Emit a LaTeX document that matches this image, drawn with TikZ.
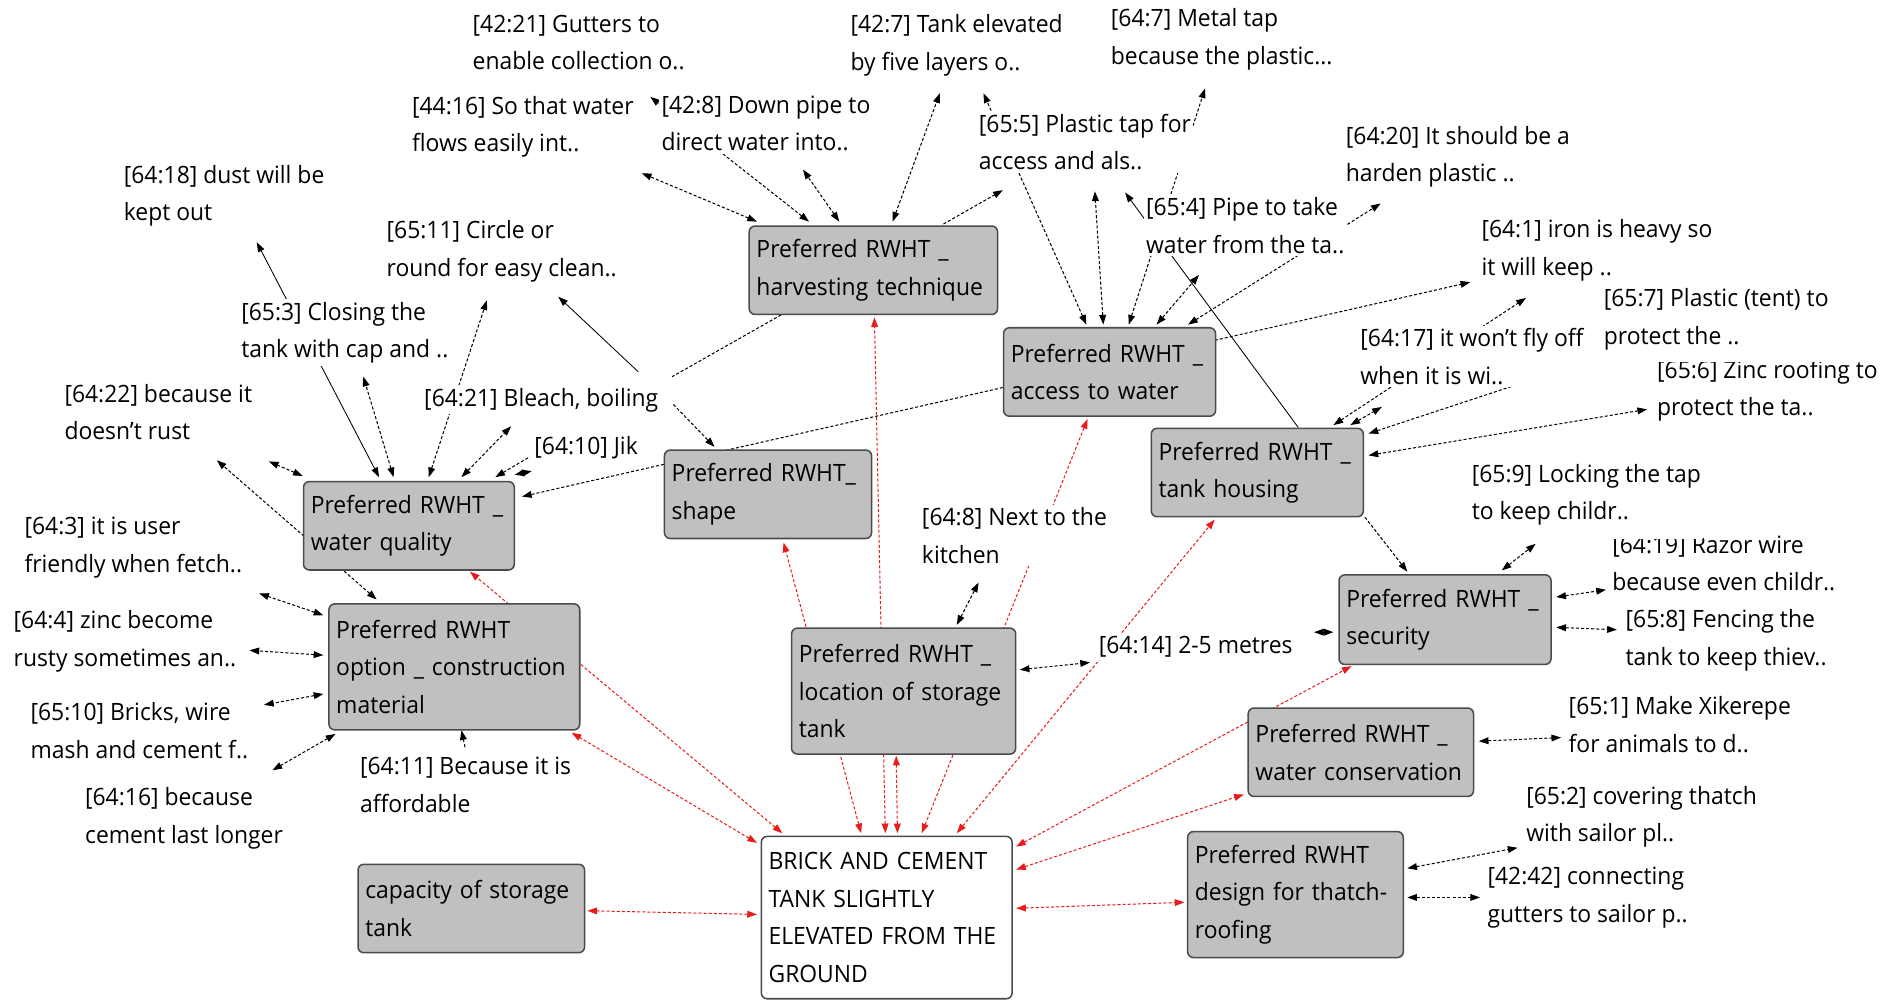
\documentclass[tikz,border=0pt]{standalone}
\usepackage{fontspec}
\setmainfont{Open Sans}[FakeStretch=0.96]
\usetikzlibrary{arrows.meta,calc}
\pgfdeclarelayer{bg}
\pgfsetlayers{bg,main}
\definecolor{boxfill}{RGB}{192,192,192}
\definecolor{boxline}{RGB}{75,75,75}
\definecolor{redl}{RGB}{232,28,28}
\begin{document}
\begin{tikzpicture}[x=0.025cm, y=-0.025cm,
  every node/.style={font=\fontsize{14}{22}\selectfont},
  txt/.style={anchor=north west, fill=white, inner sep=0.05cm, align=left, text=black},
  rbox/.style={anchor=north west, draw=boxline, fill=boxfill, line width=0.9pt, rounded corners=0.12cm, inner xsep=0.15cm, inner ysep=0pt, align=left, text=black},
  wbox/.style={rbox, fill=white},
  ln/.style={line width=0.6pt, dash pattern=on 1.8pt off 1.2pt},
  bl/.style={ln, black},
  rd/.style={ln, redl},
  sl/.style={line width=0.5pt, black},
  >={Triangle[length=2mm,width=1.4mm]}]
\useasboundingbox (0,0) rectangle (1568,826);

% ---- boxes ----
\node[rbox, minimum width=5.125cm, minimum height=1.825cm, text width=4.825cm] (H) at (618,186) {\mbox{Preferred RWHT \_}\\\mbox{harvesting technique}};
\node[rbox, minimum width=4.375cm, minimum height=1.825cm, text width=4.075cm] (A) at (828,270) {\mbox{Preferred RWHT \_}\\\mbox{access to water}};
\node[rbox, minimum width=4.375cm, minimum height=1.825cm, text width=4.075cm] (TH) at (950,353) {\mbox{Preferred RWHT \_}\\\mbox{tank housing}};
\node[rbox, minimum width=4.35cm, minimum height=1.825cm, text width=4.05cm] (WQ) at (250,397) {\mbox{Preferred RWHT \_}\\\mbox{water quality}};
\node[rbox, minimum width=4.275cm, minimum height=1.825cm, text width=3.975cm] (SH) at (548,371) {\mbox{Preferred RWHT\_}\\\mbox{shape}};
\node[rbox, minimum width=5.175cm, minimum height=2.6cm, text width=4.875cm] (CM) at (271,498) {\mbox{Preferred RWHT}\\\mbox{option \_ construction}\\\mbox{material}};
\node[rbox, minimum width=4.625cm, minimum height=2.6cm, text width=4.325cm] (L) at (653,518) {\mbox{Preferred RWHT \_}\\\mbox{location of storage}\\\mbox{tank}};
\node[rbox, minimum width=4.375cm, minimum height=1.85cm, text width=4.075cm] (S) at (1105,474) {\mbox{Preferred RWHT \_}\\\mbox{security}};
\node[rbox, minimum width=4.65cm, minimum height=1.825cm, text width=4.35cm] (WC) at (1030,584) {\mbox{Preferred RWHT \_}\\\mbox{water conservation}};
\node[rbox, minimum width=4.45cm, minimum height=2.6cm, text width=4.15cm] (TR) at (980,686) {\mbox{Preferred RWHT}\\\mbox{design for thatch-}\\\mbox{roofing}};
\node[rbox, minimum width=4.675cm, minimum height=1.825cm, text width=4.375cm] (CAP) at (295,713) {\mbox{capacity of storage}\\\mbox{tank}};
\node[wbox, minimum width=5.175cm, minimum height=3.35cm, text width=4.875cm] (C) at (628,690) {\mbox{BRICK AND CEMENT}\\\mbox{TANK SLIGHTLY}\\\mbox{ELEVATED FROM THE}\\\mbox{GROUND}};

% ---- text labels ----
\node[txt] (T1) at (388,10) {[42:21] Gutters to\\enable collection o..};
\node[txt] (T2) at (700,10) {[42:7] Tank elevated\\by five layers o..};
\node[txt] (T3) at (915,5) {[64:7] Metal tap\\because the plastic...};
\node[txt] (T4) at (338,77) {[44:16] So that water\\flows easily int..};
\node[txt] (T5) at (544,77) {[42:8] Down pipe to\\direct water into..};
\node[txt] (T6) at (806,92) {[65:5] Plastic tap for\\access and als..};
\node[txt] (T7) at (1109,102) {[64:20] It should be a\\harden plastic ..};
\node[txt] (T8) at (100,134) {[64:18] dust will be\\kept out};
\node[txt] (T9) at (317,180) {[65:11] Circle or\\round for easy clean..};
\node[txt] (T10) at (944,161) {[65:4] Pipe to take\\water from the ta..};
\node[txt] (T11) at (1221,179) {[64:1] iron is heavy so\\it will keep ..};
\node[txt] (T12) at (197,247) {[65:3] Closing the\\tank with cap and ..};
\node[txt] (T15) at (1366,295) {[65:6] Zinc roofing to\\protect the ta..};
\node[txt] (T13) at (1322,236) {[65:7] Plastic (tent) to\\protect the ..\rule[-9pt]{0pt}{1pt}};
\node[txt] (T14) at (1121,269) {[64:17] it won’t fly off\\when it is wi..};
\node[txt] (T16) at (51,315) {[64:22] because it\\doesn’t rust};
\node[txt] (T17) at (348,318) {[64:21] Bleach, boiling};
\node[txt] (T18) at (439,358) {[64:10] Jik};
\node[txt] (T19) at (18,425) {[64:3] it is user\\friendly when fetch..};
\node[txt] (T20) at (759,417) {[64:8] Next to the\\kitchen};
\node[txt] (T22) at (1329,440) {[64:19] Razor wire\\because even childr..};
\node[txt] (T21) at (1213,381) {[65:9] Locking the tap\\to keep childr..\rule[-10pt]{0pt}{1pt}};
\node[txt] (T23) at (9,502) {[64:4] zinc become\\rusty sometimes an..};
\node[txt] (T24) at (1340,501) {[65:8] Fencing the\\tank to keep thiev..};
\node[txt] (T25) at (905,523) {[64:14] 2-5 metres};
\node[txt] (T26) at (23,578) {[65:10] Bricks, wire\\mash and cement f..};
\node[txt] (T27) at (1293,573) {[65:1] Make Xikerepe\\for animals to d..};
\node[txt] (T28) at (295,623) {[64:11] Because it is\\affordable};
\node[txt] (T29) at (68,648) {[64:16] because\\cement last longer};
\node[txt] (T30) at (1258,647) {[65:2] covering thatch\\with sailor pl..};
\node[txt] (T31) at (1226,714) {[42:42] connecting\\gutters to sailor p..};

\begin{pgfonlayer}{bg}
% ---- black connectors ----
\draw[bl,<->] ($(H.north west)+(625-618,183-186)$) -- ($(T4.north west)+(530-338,143-77)$);
\draw[bl,<->] ($(H.north west)+(668-618,183-186)$) -- ($(T1.north west)+(537-388,80-10)$);
\draw[bl,<->] ($(H.north west)+(693-618,183-186)$) -- ($(T5.north west)+(663-544,140-77)$);
\draw[bl,<->] ($(H.north west)+(737-618,183-186)$) -- ($(T2.north west)+(776-700,77-10)$);
\draw[bl,->] ($(H.north west)+(779-618,185-186)$) -- ($(T6.north west)+(828-806,157-92)$);
\draw[bl] ($(H.north west)+(645-618,260-186)$) -- ($(T17.north west)+(555-348,311-318)$);
\draw[bl,<->] ($(A.north west)+(897-828,268-270)$) -- ($(T2.north west)+(812-700,77-10)$);
\draw[bl,<->] ($(A.north west)+(911-828,268-270)$) -- ($(T6.north west)+(904-806,158-92)$);
\draw[bl,<->] ($(A.north west)+(932-828,268-270)$) -- ($(T3.north west)+(995-915,73-5)$);
\draw[bl,<->] ($(A.north west)+(955-828,268-270)$) -- ($(T10.north west)+(990-944,227-161)$);
\draw[bl,<->] ($(A.north west)+(981-828,268-270)$) -- ($(T7.north west)+(1140-1109,168-102)$);
\draw[bl,->] ($(A.north west)+(1003-828,281-270)$) -- ($(T11.north west)+(1214-1221,233-179)$);
\draw[bl,->] ($(A.north west)+(828-828,320-270)$) -- ($(WQ.north west)+(431-250,410-397)$);
\draw[sl,->] ($(TH.north west)+(1072-950,353-353)$) -- ($(T6.north west)+(929-806,159-92)$);
\draw[bl,<->] ($(TH.north west)+(1101-950,351-353)$) -- ($(T11.north west)+(1260-1221,246-179)$);
\draw[bl,<->] ($(TH.north west)+(1115-950,351-353)$) -- ($(T14.north west)+(1141-1121,336-269)$);
\draw[bl,->] ($(T14.north west)+(1300-1121,302-269)$) -- ($(TH.north west)+(1130-950,358-353)$);
\draw[bl,<->] ($(TH.north west)+(1130-950,376-353)$) -- ($(T15.north west)+(1360-1366,338-295)$);
\draw[bl,->] ($(TH.north west)+(1127-950,427-353)$) -- ($(S.north west)+(1162-1105,472-474)$);
\draw[bl,<->] ($(S.north west)+(1240-1105,471-474)$) -- ($(T21.north west)+(1268-1213,449-381)$);
\draw[bl,<->] ($(S.north west)+(1285-1105,493-474)$) -- ($(T22.north west)+(1326-1329,487-440)$);
\draw[bl,<->] ($(S.north west)+(1285-1105,518-474)$) -- ($(T24.north west)+(1335-1340,520-501)$);
\draw[bl,<->] ($(S.north west)+(1101-1105,522-474)$) -- ($(T25.north west)+(1085-905,522-523)$);
\draw[bl,<->] ($(L.north west)+(842-653,553-518)$) -- ($(T25.north west)+(900-905,547-523)$);
\draw[bl,<->] ($(L.north west)+(790-653,516-518)$) -- ($(T20.north west)+(808-759,481-417)$);
\draw[bl,<->] ($(WC.north west)+(1221-1030,612-584)$) -- ($(T27.north west)+(1289-1293,609-573)$);
\draw[bl,<->] ($(TR.north west)+(1162-980,717-686)$) -- ($(T30.north west)+(1253-1258,700-647)$);
\draw[bl,<->] ($(TR.north west)+(1162-980,741-686)$) -- ($(T31.north west)+(1222-1226,741-714)$);
\draw[bl,<->] ($(CM.north west)+(267-271,508-498)$) -- ($(T19.north west)+(214-18,490-425)$);
\draw[bl,<->] ($(CM.north west)+(267-271,541-498)$) -- ($(T23.north west)+(206-9,537-502)$);
\draw[bl,<->] ($(CM.north west)+(267-271,573-498)$) -- ($(T26.north west)+(218-23,582-578)$);
\draw[bl,<->] ($(CM.north west)+(277-271,606-498)$) -- ($(T29.north west)+(225-68,636-648)$);
\draw[bl,->] ($(T28.north west)+(384-295,617-623)$) -- ($(CM.north west)+(381-271,603-498)$);
\draw[bl,<->] ($(CM.north west)+(311-271,495-498)$) -- ($(T16.north west)+(179-51,380-315)$);
\draw[bl,<->] ($(WQ.north west)+(250-250,393-397)$) -- ($(T16.north west)+(222-51,381-315)$);
\draw[sl,<->] ($(WQ.north west)+(313-250,394-397)$) -- ($(T8.north west)+(212-100,200-134)$);
\draw[bl,<->] ($(WQ.north west)+(325-250,394-397)$) -- ($(T12.north west)+(300-197,311-247)$);
\draw[bl,<->] ($(WQ.north west)+(354-250,394-397)$) -- ($(T9.north west)+(402-317,248-180)$);
\draw[bl,<->] ($(WQ.north west)+(381-250,394-397)$) -- ($(T17.north west)+(422-348,352-318)$);
\draw[bl,->] ($(T18.north west)+(436-439,378-358)$) -- ($(WQ.north west)+(409-250,394-397)$);
\draw[bl,<->] ($(WQ.north west)+(425-250,392-397)$) -- ($(T18.north west)+(439-439,389-358)$);
\draw[bl,->] ($(T17.north west)+(556-348,334-318)$) -- ($(SH.north west)+(590-548,369-371)$);
\draw[sl,->] ($(T17.north west)+(527-348,307-318)$) -- ($(T9.north west)+(461-317,245-180)$);
% ---- red connectors ----
\draw[rd,<->] ($(C.north west)+(731-628,688-690)$) -- ($(H.north west)+(722-618,262-186)$);
\draw[rd,<->] ($(C.north west)+(711-628,688-690)$) -- ($(SH.north west)+(647-548,448-371)$);
\draw[rd,<->] ($(C.north west)+(741-628,688-690)$) -- ($(L.north west)+(740-653,624-518)$);
\draw[rd,<->] ($(C.north west)+(761-628,688-690)$) -- ($(A.north west)+(898-828,346-270)$);
\draw[rd,<->] ($(C.north west)+(790-628,688-690)$) -- ($(TH.north west)+(1003-950,429-353)$);
\draw[rd,<->] ($(C.north west)+(646-628,688-690)$) -- ($(WQ.north west)+(388-250,472-397)$);
\draw[rd,<->] ($(C.north west)+(625-628,696-690)$) -- ($(CM.north west)+(472-271,605-498)$);
\draw[rd,<->] ($(C.north west)+(625-628,755-690)$) -- ($(CAP.north west)+(485-295,752-713)$);
\draw[rd,<->] ($(C.north west)+(839-628,699-690)$) -- ($(S.north west)+(1116-1105,550-474)$);
\draw[rd,<->] ($(C.north west)+(839-628,718-690)$) -- ($(WC.north west)+(1027-1030,656-584)$);
\draw[rd,<->] ($(C.north west)+(839-628,750-690)$) -- ($(TR.north west)+(978-980,745-686)$);
\end{pgfonlayer}
\end{tikzpicture}
\end{document}
